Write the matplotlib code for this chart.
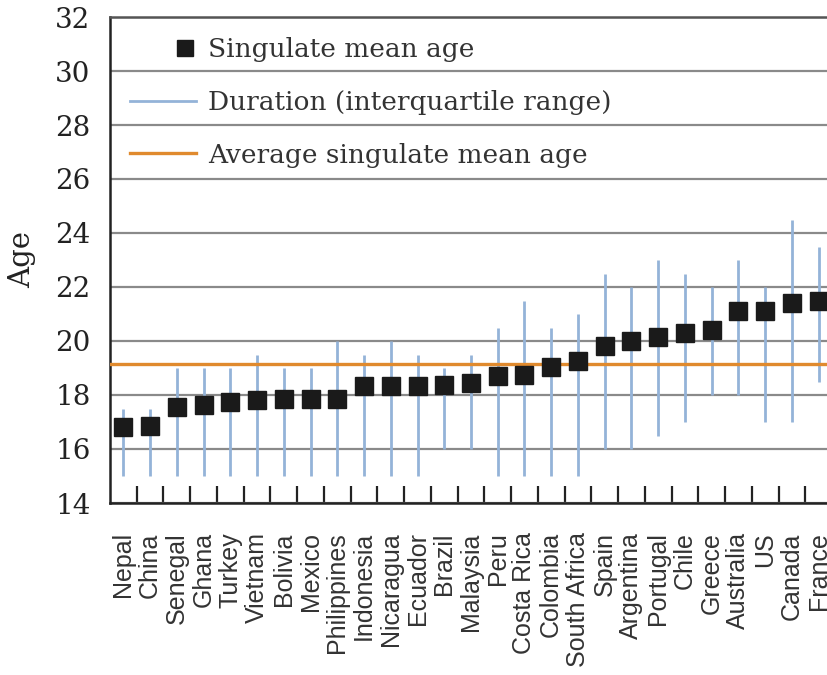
import numpy as np
import matplotlib
matplotlib.use("Agg")
import matplotlib.pyplot as plt
from matplotlib.lines import Line2D
from matplotlib.legend_handler import HandlerLine2D
from matplotlib.ticker import FixedLocator

countries = ["Nepal", "China", "Senegal", "Ghana", "Turkey", "Vietnam", "Bolivia",
             "Mexico", "Philippines", "Indonesia", "Nicaragua", "Ecuador", "Brazil",
             "Malaysia", "Peru", "Costa Rica", "Colombia", "South Africa", "Spain",
             "Argentina", "Portugal", "Chile", "Greece", "Australia", "US", "Canada",
             "France"]
mean_age = [16.8, 16.85, 17.56, 17.62, 17.74, 17.8, 17.86, 17.87, 17.87, 18.32,
            18.32, 18.33, 18.38, 18.44, 18.7, 18.74, 19.03, 19.26, 19.83, 20.01,
            20.16, 20.28, 20.41, 21.11, 21.11, 21.41, 21.49]
iqr_low = [15, 15, 15, 15, 15, 15, 15, 15, 15, 15, 15, 15, 16, 16, 15, 15, 15, 15,
           16, 16, 16.5, 17, 18, 18, 17, 17, 18.5]
iqr_high = [17.5, 17.5, 19, 19, 19, 19.5, 19, 19, 20, 19.5, 20, 19.5, 19, 19.5,
            20.5, 21.5, 20.5, 21, 22.5, 22, 23, 22.5, 22, 23, 22, 24.5, 23.5]
avg_mean_age = 19.15
yticks = [14, 16, 18, 20, 22, 24, 26, 28, 30, 32]

blue = "#94b3d8"
orange = "#e08a2e"

fig = plt.figure(figsize=(8.28, 6.75), dpi=100)
# axes runs past the right edge, as in the cropped original
ax = fig.add_axes([110 / 828, 172 / 675, 722 / 828, 486 / 675])

x = np.arange(len(countries))
ax.vlines(x, iqr_low, iqr_high, color=blue, lw=2.0, zorder=2)
ax.axhline(avg_mean_age, color=orange, lw=2.4, zorder=3)
ax.plot(x, mean_age, ls="none", marker="s", ms=12.5, color="#1a1a1a", zorder=4)

ax.set_xlim(-0.5, len(countries) - 0.5)
ax.set_ylim(14, 32)
ax.set_yticks(yticks)
ax.yaxis.grid(True, color="#8a8a8a", lw=1.6, zorder=1)
ax.set_axisbelow(True)
ax.tick_params(axis="y", length=0, pad=14, labelsize=20)
for lab in ax.get_yticklabels():
    lab.set_family("DejaVu Serif")
    lab.set_color("#222222")

ax.set_xticks(x)
ax.set_xticklabels(countries, rotation=90, family="Liberation Sans", fontsize=18,
                   color="#333333", va="top", ha="center")
ax.xaxis.set_minor_locator(FixedLocator(np.arange(0.5, len(countries) - 0.5, 1)))
ax.tick_params(axis="x", which="major", length=0, pad=21)
ax.tick_params(axis="x", which="minor", direction="in", length=12, width=1.6,
               color="#222222")

for s in ["left", "bottom", "top"]:
    ax.spines[s].set_linewidth(1.8)
    ax.spines[s].set_color("#222222")
ax.spines["top"].set_color("#555555")
ax.spines["right"].set_visible(False)

ax.set_ylabel("Age", family="DejaVu Serif", fontsize=21, labelpad=14,
              color="#222222")


class RightMarker(HandlerLine2D):
    # put the square near the right end of the handle box
    def get_xdata(self, legend, xdescent, ydescent, width, height, fontsize):
        p = -xdescent + width * 0.83
        return np.array([p - 1, p + 1]), np.array([p])


h_sq = Line2D([], [], ls="none", marker="s", ms=12, color="#1a1a1a")
h_bl = Line2D([], [], color=blue, lw=2.0)
h_or = Line2D([], [], color=orange, lw=2.4)
leg = ax.legend([h_sq, h_bl, h_or],
                ["Singulate mean age", "Duration (interquartile range)",
                 "Average singulate mean age"],
                loc="upper left", bbox_to_anchor=(0.0, 1.0), frameon=False,
                prop={"family": "DejaVu Serif", "size": 19}, handlelength=2.5,
                handletextpad=0.45, labelspacing=1.06, borderaxespad=0.45,
                borderpad=0.3, handler_map={h_sq: RightMarker(numpoints=1)})
for t in leg.get_texts():
    t.set_color("#333333")

fig.savefig("out.png", dpi=100)
